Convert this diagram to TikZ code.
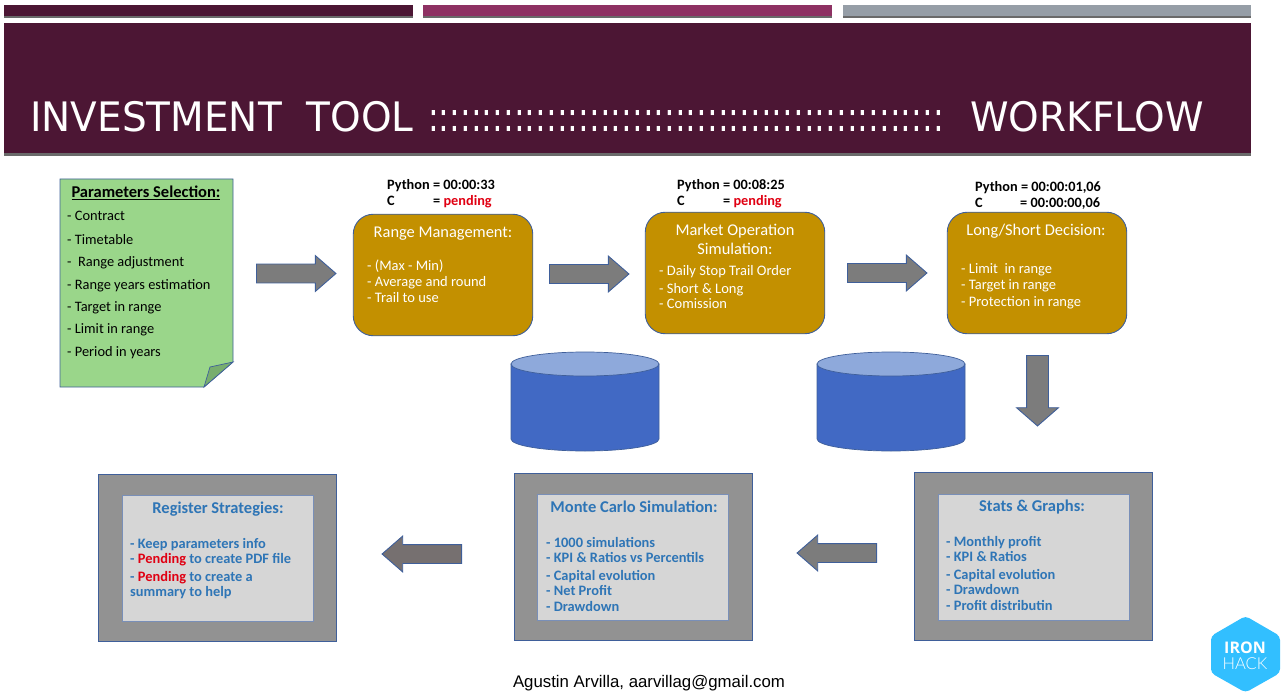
\documentclass[tikz,border=0pt]{standalone}
\usepackage{fontspec}
\setmainfont{Carlito}
\newfontfamily\titlefont[FakeStretch=0.96]{DejaVu Sans}
\newfontfamily\colonfont[FakeStretch=0.785]{DejaVu Sans}
\newfontfamily\authorfont{Liberation Sans}
\newfontfamily\logofont{Open Sans}
\newfontfamily\logolight{Lato Light}
\usetikzlibrary{shapes.arrows}
\definecolor{plumdark}{HTML}{4C1634}
\definecolor{plumlight}{HTML}{8E3163}
\definecolor{slatebar}{HTML}{969EA7}
\definecolor{shadowbar}{HTML}{6A6A6A}
\definecolor{notegreen}{HTML}{9AD68A}
\definecolor{foldgreen}{HTML}{78AE6E}
\definecolor{edgeblue}{HTML}{3F5F9A}
\definecolor{boxgold}{HTML}{C39000}
\definecolor{arrowgrey}{HTML}{7C7C7C}
\definecolor{arrowdark}{HTML}{767070}
\definecolor{framegrey}{HTML}{929292}
\definecolor{panelgrey}{HTML}{D6D6D6}
\definecolor{textblue}{HTML}{2E75B6}
\definecolor{pendingred}{HTML}{E00012}
\definecolor{dbbody}{HTML}{4169C4}
\definecolor{dbtop}{HTML}{8EA9DB}
\definecolor{logoblue}{HTML}{32BFFF}
\tikzset{
    goldbox/.style={draw=edgeblue,line width=0.9pt,fill=boxgold,rounded corners=20pt,minimum width=179.5pt,minimum height=121.5pt,inner sep=0pt},
    frame/.style={draw=edgeblue,line width=0.9pt,fill=framegrey,minimum width=238.5pt,minimum height=167.5pt,inner sep=0pt},
    panel/.style={draw=edgeblue!70!white,line width=0.6pt,fill=panelgrey,minimum width=191pt,minimum height=126pt,inner sep=0pt},
    blockarrow/.style={single arrow,anchor=tail,draw=edgeblue,line width=0.9pt,fill=arrowgrey,inner xsep=0pt,inner ysep=9pt,minimum height=79.5pt,single arrow head extend=8.5pt,single arrow tip angle=82},
    database/.style={draw=edgeblue,line width=0.7pt},
    notetext/.style={anchor=base west,inner sep=0pt,text=black,font=\fontsize{14.4}{16}\selectfont},
    timetext/.style={anchor=base west,inner sep=0pt,text=black,font=\fontsize{14.3}{16}\selectfont\bfseries},
    goldtitle/.style={anchor=base,inner sep=0pt,text=white,font=\fontsize{16.4}{18}\selectfont},
    golditem/.style={anchor=base west,inner sep=0pt,text=white,font=\fontsize{14.5}{16}\selectfont},
    bluetitle/.style={anchor=base,inner sep=0pt,text=textblue,font=\fontsize{16.5}{18}\selectfont\bfseries},
    blueitem/.style={anchor=base west,inner sep=0pt,text=textblue,font=\fontsize{14.4}{16}\selectfont\bfseries},
}
\begin{document}
\begin{tikzpicture}[x=1pt,y=-1pt]
    \useasboundingbox (0,0) rectangle (1288,695);

    \fill[plumdark] (4,5) rectangle (413,16);
    \fill[shadowbar] (4,16) rectangle (413,18);
    \fill[plumlight] (423,5) rectangle (832,16);
    \fill[shadowbar] (423,16) rectangle (832,18);
    \fill[slatebar] (843,5) rectangle (1251,16);
    \fill[shadowbar] (843,16) rectangle (1251,18);
    \fill[plumdark] (4,23) rectangle (1251,153);
    \fill[shadowbar] (4,153) rectangle (1251,156);

    \node[anchor=base west,inner sep=0pt,text=white,font=\titlefont\fontsize{40.6}{44}\selectfont] at (30,132) (titleleft) {INVESTMENT\ \ TOOL};
    \node[anchor=base west,inner sep=0pt,text=white,font=\colonfont\fontsize{40.6}{44}\selectfont] at (428,132) (titledots) {::::::::::::::::::::::::::::::::::::::::::::::::};
    \node[anchor=base west,inner sep=0pt,text=white,font=\titlefont\fontsize{40.6}{44}\selectfont] at (970,132) (titleright) {WORKFLOW};

    \draw[edgeblue,line width=0.9pt,fill=notegreen] (60,179) -- (233,179) -- (233,362) -- (204,387) -- (60,387) -- cycle;
    \draw[edgeblue,line width=0.7pt,fill=foldgreen] (204,387) -- (210,367) -- (233,362) -- cycle;
    \node[anchor=base,inner sep=0pt,text=black,font=\fontsize{16.5}{18}\selectfont\bfseries] at (146,198) (paramstitle) {\underline{Parameters Selection:}};
    \node[notetext] at (67,221) (contract) {- Contract};
    \node[notetext] at (67,244) (timetable) {- Timetable};
    \node[notetext] at (67,266.5) (rangeadj) {-\ \ Range adjustment};
    \node[notetext] at (67,289) (rangeyears) {- Range years estimation};
    \node[notetext] at (67,311) (targetrange) {- Target in range};
    \node[notetext] at (67,333) (limitrange) {- Limit in range};
    \node[notetext] at (67,356) (periodyears) {- Period in years};

    \node[timetext] at (387,190) (pythonone) {Python = 00:00:33};
    \node[timetext] at (387,206) (cone) {C};
    \node[timetext] at (433,206) (cvalueone) {= \textcolor{pendingred}{pending}};
    \node[timetext] at (677,190) (pythontwo) {Python = 00:08:25};
    \node[timetext] at (677,206) (ctwo) {C};
    \node[timetext] at (723,206) (cvaluetwo) {= \textcolor{pendingred}{pending}};
    \node[timetext] at (975,192) (pythonthree) {Python = 00:00:01,06};
    \node[timetext] at (975,208) (cthree) {C};
    \node[timetext] at (1020,208) (cvaluethree) {= 00:00:00,06};

    \node[goldbox] at (443,275) (rangebox) {};
    \node[goldtitle] at (443,237.5) (rangetitle) {Range Management:};
    \node[golditem] at (367,270) (maxmin) {- (Max - Min)};
    \node[golditem] at (367,286) (average) {- Average and round};
    \node[golditem] at (367,302) (trail) {- Trail to use};

    \node[goldbox] at (735,273) (marketbox) {};
    \node[goldtitle] at (735,235.5) (markettitle) {Market Operation};
    \node[goldtitle] at (735,254.5) (markettitleb) {Simulation:};
    \node[golditem] at (659,275.5) (dailystop) {- Daily Stop Trail Order};
    \node[golditem] at (659,293) (shortlong) {- Short \& Long};
    \node[golditem] at (659,308) (comission) {- Comission};

    \node[goldbox] at (1037,273) (decisionbox) {};
    \node[goldtitle] at (1036,235.5) (decisiontitle) {Long/Short Decision:};
    \node[golditem] at (961,273.5) (limitin) {- Limit\ \ in range};
    \node[golditem] at (961,290) (targetin) {- Target in range};
    \node[golditem] at (961,306) (protection) {- Protection in range};

    \node[blockarrow] at (256,273.5) (arrowone) {};
    \node[blockarrow] at (549,274) (arrowtwo) {};
    \node[blockarrow] at (847,273) (arrowthree) {};
    \node[blockarrow,minimum height=70.5pt,inner ysep=10.5pt,single arrow head extend=10pt,single arrow tip angle=98,rotate=-90] at (1037.5,355) (arrowdown) {};
    \node[blockarrow,fill=arrowdark,rotate=180] at (462,554) (arrowregister) {};
    \node[blockarrow,rotate=180] at (877,553) (arrowmonte) {};

    \draw[database,fill=dbbody] (511,364) -- (511,439) arc[start angle=180,end angle=360,x radius=74pt,y radius=12pt] -- (659,364) -- cycle;
    \draw[database,fill=dbtop] (585,364) ellipse[x radius=74pt,y radius=12pt];
    \draw[database,fill=dbbody] (817,364) -- (817,439) arc[start angle=180,end angle=360,x radius=74pt,y radius=12pt] -- (965,364) -- cycle;
    \draw[database,fill=dbtop] (891,364) ellipse[x radius=74pt,y radius=12pt];

    \node[frame] at (1033.5,556.5) (statsframe) {};
    \node[panel] at (1033.5,557) (statspanel) {};
    \node[bluetitle] at (1032,511.5) (statstitle) {Stats \& Graphs:};
    \node[blueitem] at (946,546) (monthly) {- Monthly profit};
    \node[blueitem] at (946,561.5) (kpistats) {- KPI \& Ratios};
    \node[blueitem] at (946,579) (capitalstats) {- Capital evolution};
    \node[blueitem] at (946,594.5) (drawstats) {- Drawdown};
    \node[blueitem] at (946,610) (profit) {- Profit distributin};

    \node[frame] at (633.5,557) (monteframe) {};
    \node[panel] at (633,557) (montepanel) {};
    \node[bluetitle] at (634,512.5) (montetitle) {Monte Carlo Simulation:};
    \node[blueitem] at (546,547) (thousand) {- 1000 simulations};
    \node[blueitem] at (546,562.5) (kpimonte) {- KPI \& Ratios vs Percentils};
    \node[blueitem] at (546,580) (capitalmonte) {- Capital evolution};
    \node[blueitem] at (546,595.5) (netprofit) {- Net Profit};
    \node[blueitem] at (546,611) (drawmonte) {- Drawdown};

    \node[frame] at (217.5,558) (registerframe) {};
    \node[panel] at (217.5,558) (registerpanel) {};
    \node[bluetitle] at (218,513.5) (registertitle) {Register Strategies:};
    \node[blueitem] at (130,548) (keepinfo) {- Keep parameters info};
    \node[blueitem] at (130,563.5) (pendingpdf) {- \textcolor{pendingred}{Pending} to create PDF file};
    \node[blueitem] at (130,581) (pendingsum) {- \textcolor{pendingred}{Pending} to create a};
    \node[blueitem] at (130,596.5) (summary) {summary to help};

    \node[anchor=base,inner sep=0pt,text=black,font=\authorfont\fontsize{16.8}{20}\selectfont] at (649,687) (author) {Agustin Arvilla, aarvillag@gmail.com};

    \fill[logoblue,rounded corners=4pt] (1245.5,616) -- (1280,636) -- (1280,673) -- (1245.5,692.5) -- (1211,673) -- (1211,636) -- cycle;
    \node[anchor=base,inner sep=0pt,text=white,font=\logofont\bfseries\fontsize{16}{20}\selectfont] at (1245,653) (logoiron) {IRON};
    \node[anchor=base,inner sep=0pt,text=white,font=\logolight\fontsize{16.5}{20}\selectfont] at (1245,669) (logohack) {HACK};
\end{tikzpicture}
\end{document}
